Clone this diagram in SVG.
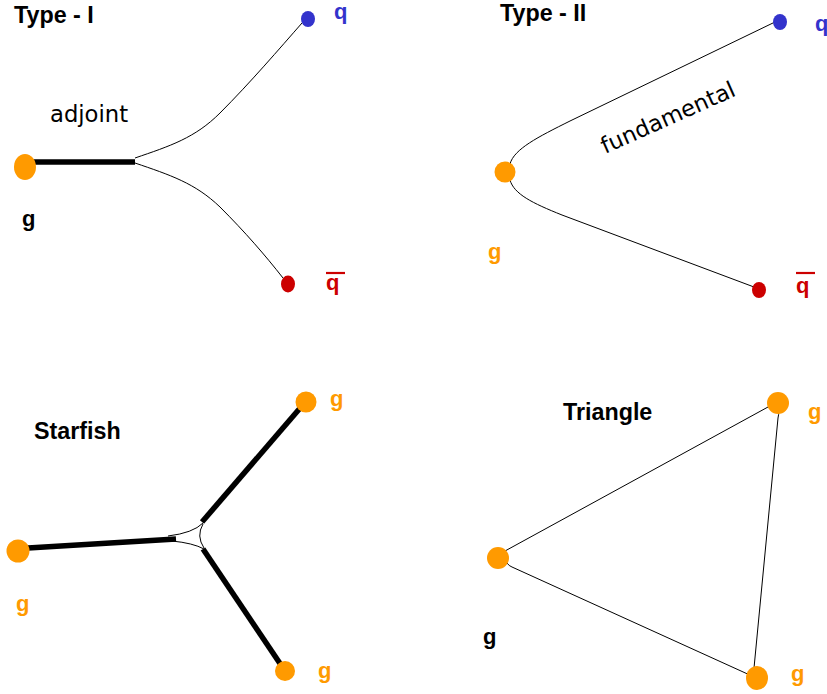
<svg xmlns="http://www.w3.org/2000/svg" width="827" height="694" viewBox="0 0 827 694">
<style>
.bg{fill:#fff}
.title{font-family:"Liberation Sans",Arial,sans-serif;font-weight:bold;font-size:23.3px;fill:#000}
.lbl{font-family:"Liberation Sans",Arial,sans-serif;font-weight:bold;font-size:22px}
.rep{font-family:"DejaVu Sans",sans-serif;font-size:22.7px;fill:#000}
.thin{fill:none;stroke:#000;stroke-width:1}
.thick{fill:none;stroke:#000;stroke-width:5.5}
.org{fill:#ff9a00}
.blu{fill:#3333cc}
.red{fill:#cc0000}
</style>
<rect class="bg" x="0" y="0" width="827" height="694"/>

<g id="connectors">
  <!-- Type I -->
  <line class="thick" x1="33" y1="162" x2="135" y2="162"/>
  <path class="thin" d="M135,158 C170,146 195,138 220,113 C250,83 280,48 302,23"/>
  <path class="thin" d="M135,163 C170,175 195,183 220,207 C245,232 265,255 283,278"/>
  <!-- Type II -->
  <path class="thin" d="M510,164 C514,149 538,137 570,121 L775,22"/>
  <path class="thin" d="M510,180 C514,194 532,203 562,215 L754,287"/>
  <!-- Starfish -->
  <line class="thick" x1="28" y1="548" x2="176" y2="539"/>
  <line class="thick" x1="202" y1="522" x2="301" y2="407"/>
  <line class="thick" x1="203" y1="549" x2="281" y2="665"/>
  <path class="thin" d="M168,536 Q193,533 203,523"/>
  <path class="thin" d="M172,541 Q193,543 204,549"/>
  <path class="thin" d="M203,524 Q196,536 204,548"/>
  <!-- Triangle -->
  <path class="thin" d="M505,551 L768,407 Q772,404 773,409"/>
  <path class="thin" d="M776,408 Q780,410 778,418 L754,668 Q753,671 750,672"/>
  <path class="thin" d="M507,563 Q509,566 512,567 L752,676"/>
</g>

<g id="type1">
  <text class="title" x="14" y="23">Type - I</text>
  <text class="rep" x="50" y="122">adjoint</text>
</g>
<g id="t1-g">
  <ellipse class="org" cx="25" cy="167" rx="11" ry="13"/>
  <text class="lbl" x="22" y="226" fill="#000">g</text>
</g>
<g id="t1-q">
  <ellipse class="blu" cx="308" cy="19" rx="7" ry="8"/>
  <text class="lbl" x="334" y="19" fill="#3333cc">q</text>
</g>
<g id="t1-qbar">
  <ellipse class="red" cx="288" cy="284" rx="7" ry="8.5"/>
  <text class="lbl" x="326" y="290" fill="#cc0000">q</text>
  <line x1="326" y1="273" x2="345" y2="273" stroke="#cc0000" stroke-width="2.2"/>
</g>

<g id="type2">
  <text class="title" x="500" y="21">Type - II</text>
  <text class="rep" transform="translate(605,154) rotate(-24)">fundamental</text>
</g>
<g id="t2-g">
  <ellipse class="org" cx="505" cy="172" rx="10.5" ry="10.5"/>
  <text class="lbl" x="488" y="259" fill="#ff9a00">g</text>
</g>
<g id="t2-q">
  <ellipse class="blu" cx="780" cy="22" rx="7" ry="8"/>
  <text class="lbl" x="815" y="31" fill="#3333cc">q</text>
</g>
<g id="t2-qbar">
  <ellipse class="red" cx="759" cy="290" rx="7" ry="8"/>
  <text class="lbl" x="796" y="293" fill="#cc0000">q</text>
  <line x1="796" y1="273" x2="815" y2="273" stroke="#cc0000" stroke-width="2.2"/>
</g>

<g id="starfish">
  <text class="title" x="34" y="439">Starfish</text>
</g>
<g id="sf-g1">
  <circle class="org" cx="18" cy="551" r="11.5"/>
  <text class="lbl" x="16" y="611" fill="#ff9a00">g</text>
</g>
<g id="sf-g2">
  <circle class="org" cx="306" cy="402" r="10.5"/>
  <text class="lbl" x="330" y="406" fill="#ff9a00">g</text>
</g>
<g id="sf-g3">
  <circle class="org" cx="285" cy="671" r="10"/>
  <text class="lbl" x="318" y="678" fill="#ff9a00">g</text>
</g>

<g id="triangle">
  <text class="title" x="563" y="420">Triangle</text>
</g>
<g id="tr-g1">
  <ellipse class="org" cx="498" cy="558" rx="11" ry="11"/>
  <text class="lbl" x="483" y="644" fill="#000">g</text>
</g>
<g id="tr-g2">
  <ellipse class="org" cx="778" cy="403" rx="11" ry="11"/>
  <text class="lbl" x="808" y="419" fill="#ff9a00">g</text>
</g>
<g id="tr-g3">
  <ellipse class="org" cx="757" cy="678" rx="11" ry="12"/>
  <text class="lbl" x="791" y="681" fill="#ff9a00">g</text>
</g>
</svg>
